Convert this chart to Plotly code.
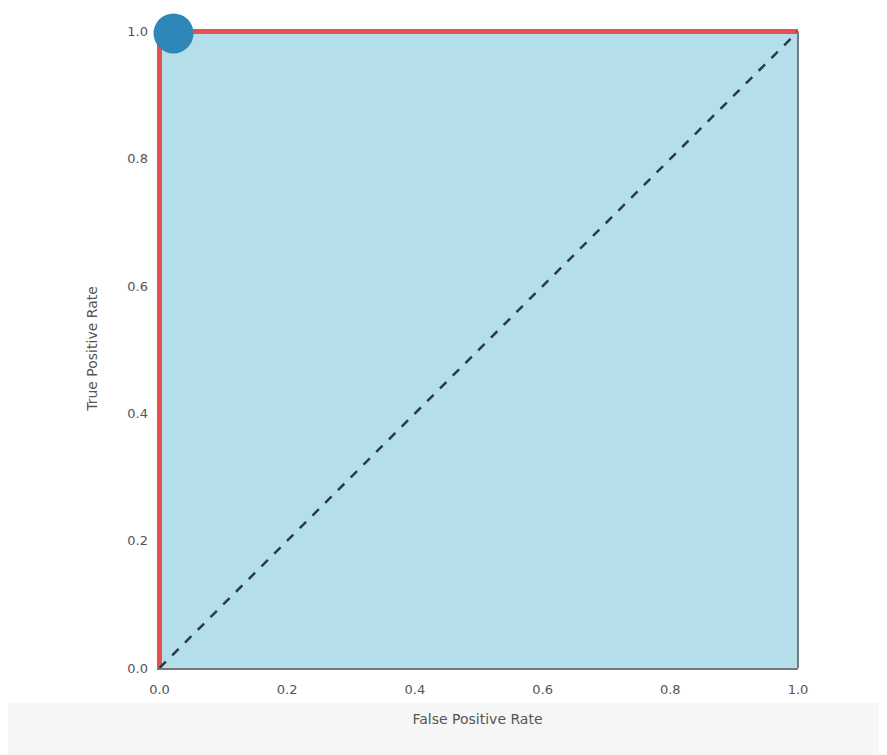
import plotly.graph_objects as go

fpr = [0.0, 0.0, 1.0]
tpr = [0.0, 1.0, 1.0]
diag_x = [0.0, 1.0]
diag_y = [0.0, 1.0]
best_x = [0.022]
best_y = [0.997]
tick_vals = [0.0, 0.2, 0.4, 0.6, 0.8, 1.0]
tick_text = ["0.0", "0.2", "0.4", "0.6", "0.8", "1.0"]

fig = go.Figure()
fig.add_trace(go.Scatter(x=fpr, y=tpr, mode="lines", fill="tozeroy",
                         fillcolor="#b5deeb", line=dict(color="#e8504f", width=5),
                         cliponaxis=False, hoverinfo="skip"))
fig.add_trace(go.Scatter(x=diag_x, y=diag_y, mode="lines",
                         line=dict(color="#2b3a44", width=2.5, dash="dash"),
                         cliponaxis=False))
fig.add_trace(go.Scatter(x=best_x, y=best_y, mode="markers",
                         marker=dict(color="#2f86b8", size=40, line=dict(width=0)),
                         cliponaxis=False))

axis_common = dict(tickvals=tick_vals, ticktext=tick_text,
                   showgrid=False, zeroline=False, ticks="", layer="below traces",
                   tickfont=dict(family="DejaVu Sans", size=13, color="#555"))

fig.update_layout(
    width=887, height=755,
    margin=dict(l=149, r=97, t=21, b=95),
    paper_bgcolor="white", plot_bgcolor="white",
    showlegend=False,
    xaxis=dict(**axis_common, range=[-0.0039, 1.0], ticklabelstandoff=8,
               showline=True, linecolor="#707a80", linewidth=2,
               title=dict(text="False Positive Rate", standoff=19,
                          font=dict(family="DejaVu Sans", size=14, color="#555"))),
    yaxis=dict(**axis_common, range=[0.0, 1.004], ticklabelstandoff=8, showline=False,
               title=dict(text="True Positive Rate", standoff=26,
                          font=dict(family="DejaVu Sans", size=14, color="#555"))),
    shapes=[
        dict(type="rect", xref="paper", yref="paper", x0=-0.3, x1=1.2,
             y0=-0.2, y1=-0.055, layer="below", line=dict(width=0),
             fillcolor="#f6f6f6"),
        dict(type="line", xref="paper", yref="paper", x0=1, x1=1, y0=0, y1=0.996,
             layer="above", line=dict(color="#707a80", width=2)),
    ],
)

fig.write_html("out.html")
